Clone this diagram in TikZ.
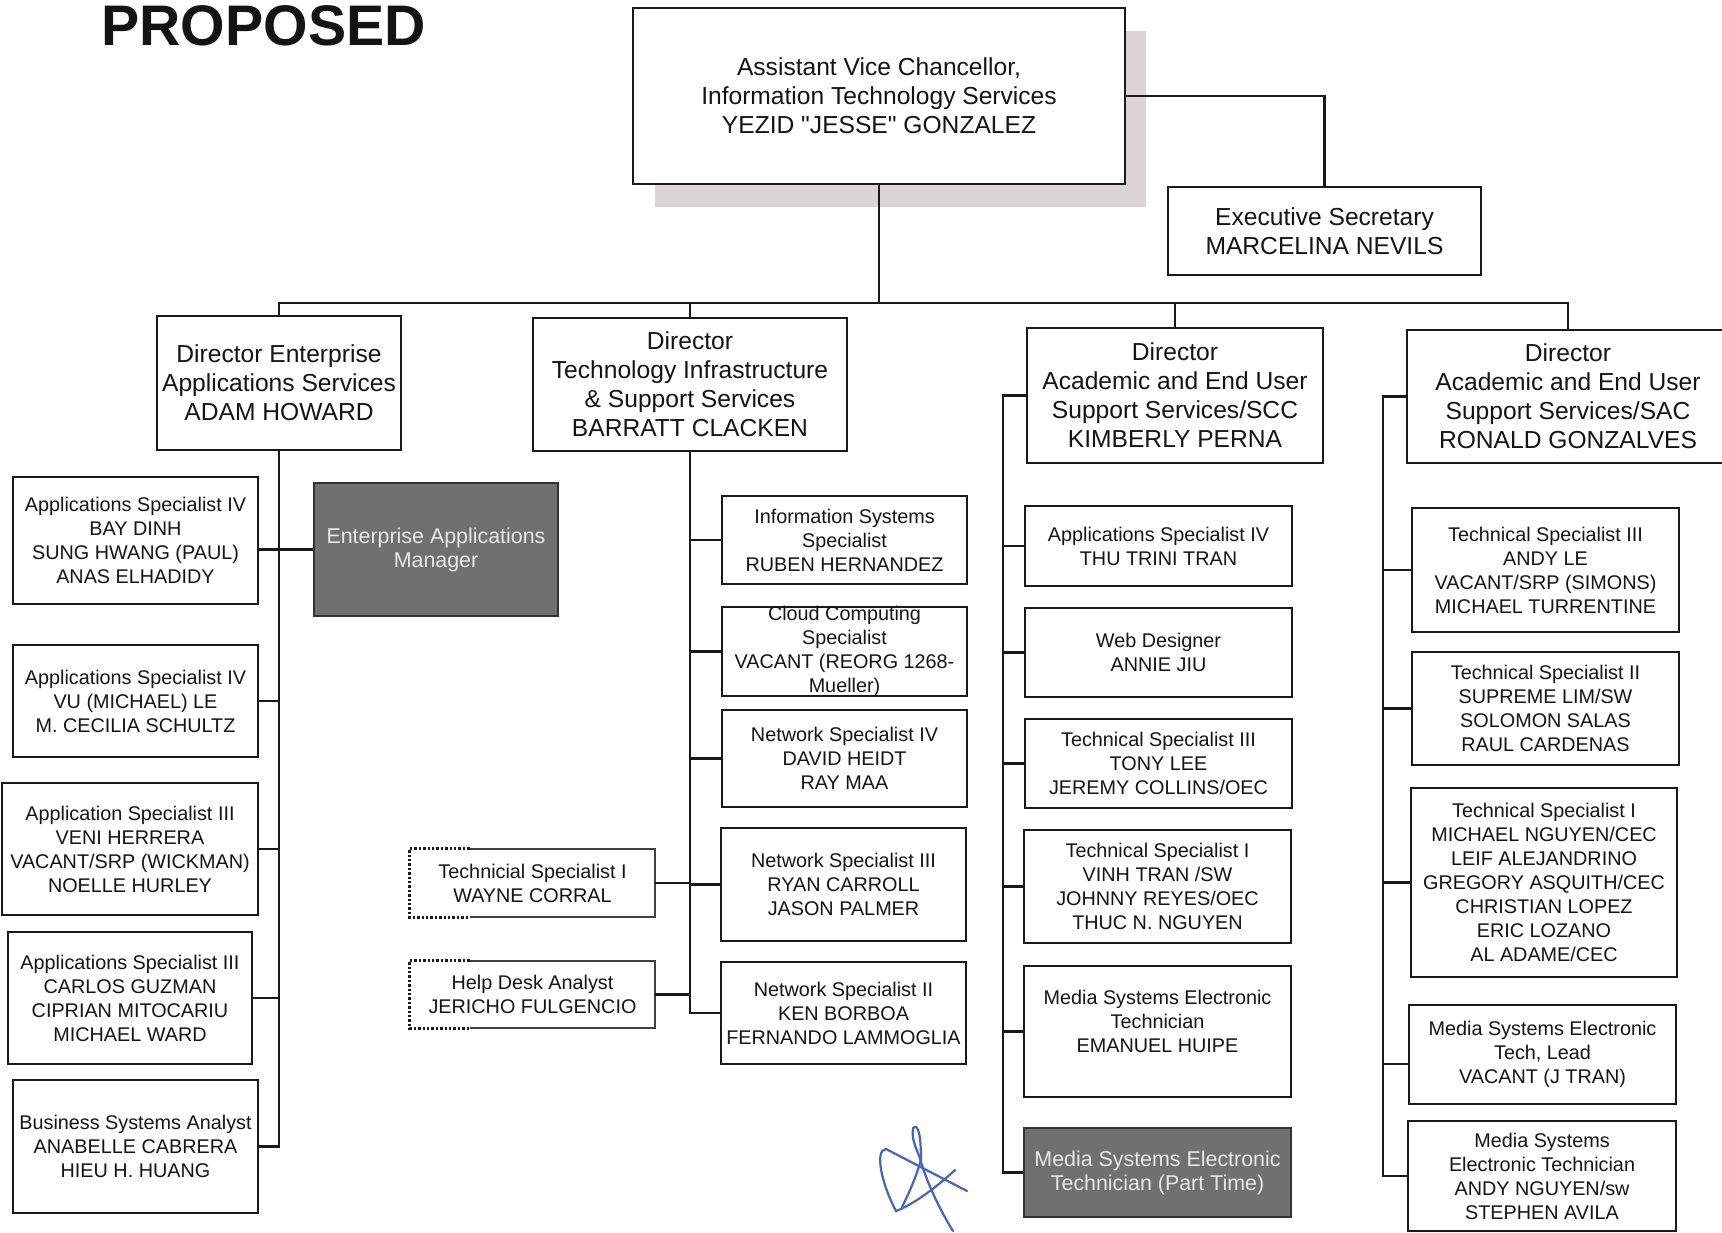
\documentclass[tikz,border=0pt]{standalone}
\usepackage{fontspec}
\setmainfont{Liberation Sans}[Ligatures=TeXOff]
\usetikzlibrary{fit,calc}
\definecolor{shadowc}{RGB}{216,212,216}
\definecolor{sig}{RGB}{70,100,190}
\definecolor{darkfill}{RGB}{112,112,112}
\definecolor{lighttext}{RGB}{232,232,232}
\tikzset{
  box/.style={draw=black!90, line width=1pt, inner sep=0pt, fill=white},
  nobox/.style={draw=none, inner sep=0pt, fill=white},
  dbox/.style={draw=black!80, line width=1pt, inner sep=0pt, fill=darkfill},
  shadowbox/.style={draw=none, inner sep=0pt, fill=shadowc},
  big/.style={align=center, font=\fontsize{12.3}{14.5}\selectfont, inner sep=0pt, text=black!92},
  sm/.style={align=center, font=\fontsize{9.9}{12}\selectfont, inner sep=0pt, text=black!92},
  dk/.style={align=center, font=\fontsize{10.7}{12}\selectfont, inner sep=0pt, text=lighttext},
  link/.style={line width=1.1pt, draw=black!90},
}
\newcommand\obox[8]{%
  \node[#1, fit={(#3,#4) (#5,#6)}] (#2) {};
  \node[#7] (#2-t) at (#2.center) {#8};}
\begin{document}
\begin{tikzpicture}[x=0.5pt,y=-0.5pt]
\path[use as bounding box, fill=white] (0,0) rectangle (1722,1232);

% title
\node[anchor=base west, font=\fontsize{28.6}{30}\bfseries\selectfont, inner sep=0pt, text=black!92] (title) at (101,45) {PROPOSED};

% top
\node[shadowbox, fit={(655,31) (1146,207)}] (avcshadow) {};
\obox{box}{avc}{633}{8}{1125}{184}{big}{Assistant Vice Chancellor,\\Information Technology Services\\YEZID "JESSE" GONZALEZ}
\obox{box}{exec}{1168}{187}{1481}{275}{big}{Executive Secretary\\MARCELINA NEVILS}

% directors
\obox{box}{d1}{157}{316}{401}{450}{big}{Director Enterprise\\Applications Services\\ADAM HOWARD}
\obox{box}{d2}{533}{318}{847}{451}{big}{Director\\Technology Infrastructure\\\& Support Services\\BARRATT CLACKEN}
\obox{box}{d3}{1027}{328}{1323}{463}{big}{Director\\Academic and End User\\Support Services/SCC\\KIMBERLY PERNA}
\obox{box}{d4}{1407}{330}{1729}{463}{big}{Director\\Academic and End User\\Support Services/SAC\\RONALD GONZALVES}

% enterprise applications
\obox{dbox}{eam}{314}{483}{558}{616}{dk}{Enterprise Applications\\Manager}
\obox{box}{a1}{13}{477}{258}{604}{sm}{Applications Specialist IV\\BAY DINH\\SUNG HWANG (PAUL)\\ANAS ELHADIDY}
\obox{box}{a2}{13}{645}{258}{757}{sm}{Applications Specialist IV\\VU (MICHAEL) LE\\M. CECILIA SCHULTZ}
\obox{box}{a3}{2}{783}{258}{915}{sm}{Application Specialist III\\VENI HERRERA\\VACANT/SRP (WICKMAN)\\NOELLE HURLEY}
\obox{box}{a4}{8}{932}{252}{1064}{sm}{Applications Specialist III\\CARLOS GUZMAN\\CIPRIAN MITOCARIU\\MICHAEL WARD}
\obox{box}{a5}{13}{1080}{258}{1213}{sm}{Business Systems Analyst\\ANABELLE CABRERA\\HIEU H. HUANG}

% technology infrastructure
\obox{box}{t1}{722}{496}{967}{584}{sm}{Information Systems\\Specialist\\RUBEN HERNANDEZ}
\obox{box}{t2}{722}{607}{967}{696}{sm}{Cloud Computing\\Specialist\\VACANT (REORG 1268-\\Mueller)}
\obox{box}{t3}{722}{710}{967}{807}{sm}{Network Specialist IV\\DAVID HEIDT\\RAY MAA}
\obox{box}{t4}{721}{828}{966}{941}{sm}{Network Specialist III\\RYAN CARROLL\\JASON PALMER}
\obox{box}{t5}{721}{962}{966}{1064}{sm}{Network Specialist II\\KEN BORBOA\\FERNANDO LAMMOGLIA}
\obox{nobox}{tl1}{410}{849}{655}{917}{sm}{Technicial Specialist I\\WAYNE CORRAL}
\obox{nobox}{tl2}{410}{961}{655}{1028}{sm}{Help Desk Analyst\\JERICHO FULGENCIO}
\foreach \b in {tl1,tl2}{
  \draw[line width=1pt, draw=black!75] ($(\b.north west)+(60,0)$) -- (\b.north east) -- (\b.south east) -- ($(\b.south west)+(60,0)$);
  \draw[line width=1.2pt, draw=black!90, densely dotted] ($(\b.north west)+(60,0)$) -- (\b.north west) -- (\b.south west) -- ($(\b.south west)+(60,0)$);
}

% SCC
\obox{box}{s1}{1025}{506}{1292}{586}{sm}{Applications Specialist IV\\THU TRINI TRAN}
\obox{box}{s2}{1025}{608}{1292}{697}{sm}{Web Designer\\ANNIE JIU}
\obox{box}{s3}{1025}{719}{1292}{808}{sm}{Technical Specialist III\\TONY LEE\\JEREMY COLLINS/OEC}
\obox{box}{s4}{1024}{830}{1291}{943}{sm}{Technical Specialist I\\VINH TRAN /SW\\JOHNNY REYES/OEC\\THUC N. NGUYEN}
\obox{box}{s5}{1024}{966}{1291}{1097}{sm, yshift=5pt}{Media Systems Electronic\\Technician\\EMANUEL HUIPE}
\obox{dbox}{s6}{1024}{1128}{1291}{1217}{dk}{Media Systems Electronic\\Technician (Part Time)}

% SAC
\obox{box}{r1}{1412}{508}{1679}{632}{sm}{Technical Specialist III\\ANDY LE\\VACANT/SRP (SIMONS)\\MICHAEL TURRENTINE}
\obox{box}{r2}{1412}{652}{1679}{765}{sm}{Technical Specialist II\\SUPREME LIM/SW\\SOLOMON SALAS\\RAUL CARDENAS}
\obox{box}{r3}{1411}{788}{1677}{977}{sm}{Technical Specialist I\\MICHAEL NGUYEN/CEC\\LEIF ALEJANDRINO\\GREGORY ASQUITH/CEC\\CHRISTIAN LOPEZ\\ERIC LOZANO\\AL ADAME/CEC}
\obox{box}{r4}{1409}{1005}{1676}{1104}{sm}{Media Systems Electronic\\Tech, Lead\\VACANT (J TRAN)}
\obox{box}{r5}{1408}{1121}{1676}{1231}{sm}{Media Systems\\Electronic Technician\\ANDY NGUYEN/sw\\STEPHEN AVILA}

% connectors: top
\coordinate (bus) at (880,303);
\draw[link] (avc.south) -- (avc.south |- bus);
\draw[link] (d1.north) -- (d1.north |- bus) -- (d4.north |- bus) -- (d4.north);
\draw[link] (d2.north) -- (d2.north |- bus);
\draw[link] (d3.north) -- (d3.north |- bus);
\draw[link] (avc.east) -| (exec.north);

% EAS
\draw[link] (d1.south) -- (d1.south |- a5.east) -- (a5.east);
\draw[link] (a1.east |- eam.west) -- (eam.west);
\foreach \b in {a2,a3,a4}{\draw[link] (\b.east) -- (\b.east -| d1.south);}

% TISS
\draw[link] (d2.south) -- (d2.south |- t5.west) -- (t5.west);
\foreach \b in {t1,t2,t3,t4}{\draw[link] (\b.west) -- (\b.west -| d2.south);}
\foreach \b in {tl1,tl2}{\draw[link] (\b.east) -- (\b.east -| d2.south);}

% SCC
\coordinate (c3) at (1003,0);
\draw[link] (d3.west) -- (d3.west -| c3) -- (c3 |- s6.west) -- (s6.west);
\foreach \b in {s1,s2,s3,s4,s5}{\draw[link] (\b.west) -- (\b.west -| c3);}

% SAC
\coordinate (c4) at (1383,0);
\draw[link] (d4.west) -- (d4.west -| c4) -- (c4 |- r5.west) -- (r5.west);
\foreach \b in {r1,r2,r3}{\draw[link] (\b.west) -- (\b.west -| c4);}
\draw[link] ($(r4.west)+(0,9.5)$) -- ($(r4.west -| c4)+(0,9.5)$);

% signature
\begin{scope}[sig, line width=1.1pt, line cap=round]
\draw (913,1128) .. controls (911,1142) and (918,1150) .. (921,1162) .. controls (928,1185) and (940,1210) .. (953,1231);
\draw (913,1128) .. controls (919,1122) and (921,1140) .. (921,1160);
\draw (967,1191) -- (886,1149) .. controls (874,1150) and (882,1185) .. (896,1211) .. controls (915,1204) and (940,1184) .. (955,1170);
\draw (921,1160) .. controls (915,1180) and (908,1195) .. (902,1207);
\end{scope}
\end{tikzpicture}
\end{document}
